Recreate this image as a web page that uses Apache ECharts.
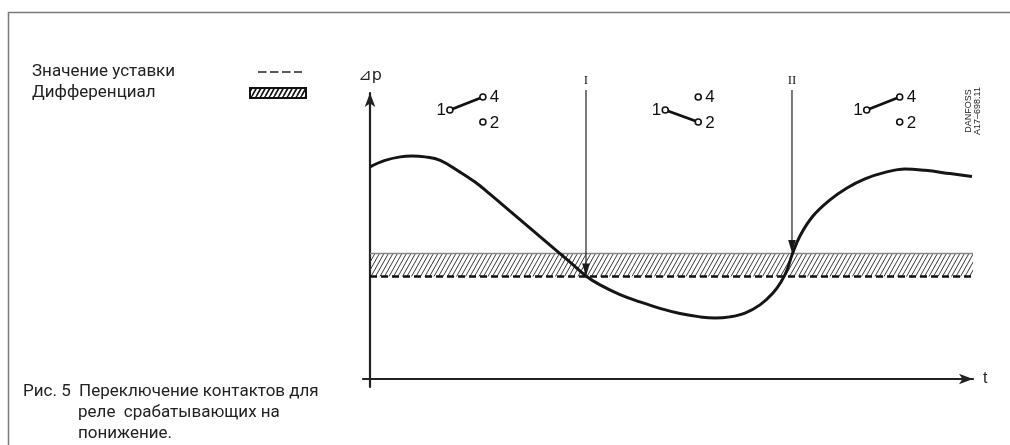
<!DOCTYPE html>
<html><head><meta charset="utf-8">
<script src="https://cdn.jsdelivr.net/npm/echarts@6/dist/echarts.min.js"></script>
<style>html,body{margin:0;padding:0;background:#fff}#c{width:1010px;height:445px}</style>
</head><body><div id="c"></div>
<script>
// ---- data ----
const tValues  = [0, 2.48, 5.0, 6.9, 9.1, 11.6, 14.88, 17.36, 19.83, 23.14, 26.45, 29.75, 33.06, 35.7, 38.02, 41.32, 44.63, 47.93, 51.24, 54.55, 57.02, 59.5, 61.98, 64.46, 66.61, 67.93, 68.93, 69.75, 71.07, 73.22, 76.03, 78.84, 81.82, 85.12, 88.43, 91.74, 95.87, 99.5];
const dpValues = [72.4, 74.6, 75.8, 76.1, 75.8, 74.6, 70.6, 67.2, 63.1, 57.3, 51.5, 45.7, 39.9, 35.15, 32.1, 28.8, 26.3, 24.1, 22.35, 21.2, 20.8, 21.2, 22.5, 25.3, 29.35, 33.1, 37.2, 42.3, 48.8, 55.6, 61.1, 65.2, 68.3, 70.5, 71.7, 71.2, 70.1, 69.1];
const setpoint = 35;
const differential = 8;
const arrowT = [35.7, 69.75];
const arrowLabels = ['I', 'II'];
const arrowStart = 98.6;
const arrowEnd = [setpoint, setpoint + differential];
const switchT = [13.2, 48.8, 82.1];
const switchClosed = ['4', '2', '4'];
const switchLevel = 91.8;
const legendNames = ['Значение уставки', 'Дифференциал'];
const captionLines = ['Рис. 5  Переключение контактов для', 'реле  срабатывающих на', 'понижение.'];
const stampLines = ['DANFOSS', 'A17\u2013698.11'];

const xMin = -1.16, xMax = 99.67, yMin = -2.73, yMax = 97.6;
const gridTop = 93, gridBottomPx = 387;

function makeHatch(color, lw) {
  const c = document.createElement('canvas');
  c.width = 9; c.height = 16;
  const g = c.getContext('2d');
  g.strokeStyle = color; g.lineWidth = lw;
  for (const k of [-9, -4.5, 0, 4.5, 9]) { g.beginPath(); g.moveTo(k, 16); g.lineTo(k + 9, 0); g.stroke(); }
  return { image: c, repeat: 'repeat' };
}
const hatch = makeHatch('#3a3a3a', 1);
const hatchDark = makeHatch('#111', 1.6);

const chart = echarts.init(document.getElementById('c'));
const font = 'Roboto';
const fs = 17;

function circ(x, y) { return { type: 'circle', shape: { cx: x, cy: y, r: 3 }, style: { fill: '#fff', stroke: '#111', lineWidth: 1.6 }, z2: 2 }; }
function num(t, x, y, align) { return { type: 'text', x: x, y: y, style: { text: t, fontFamily: 'Liberation Sans', fontSize: 17, fill: '#111', align: align, verticalAlign: 'middle' }, z2: 3 }; }

chart.setOption({
  animation: false,
  grid: { left: 363, right: 1010 - 973, top: gridTop, bottom: 445 - gridBottomPx },
  xAxis: {
    type: 'value', min: xMin, max: xMax,
    axisLine: { onZero: true, symbol: ['none', 'arrow'], symbolSize: [8, 14], lineStyle: { color: '#222', width: 2.2 } },
    axisTick: { show: false }, axisLabel: { show: false }, splitLine: { show: false },
    name: 't', nameLocation: 'end', nameGap: 10,
    nameTextStyle: { fontFamily: 'Liberation Sans', fontSize: 16, color: '#222', verticalAlign: 'middle' }
  },
  yAxis: {
    type: 'value', min: yMin, max: yMax,
    axisLine: { onZero: true, symbol: ['none', 'arrow'], symbolSize: [8, 14], lineStyle: { color: '#222', width: 2.2 } },
    axisTick: { show: false }, axisLabel: { show: false }, splitLine: { show: false },
    name: '\u22BFp', nameLocation: 'end', nameGap: 9,
    nameTextStyle: { fontFamily: 'DejaVu Sans', fontSize: 16, color: '#222' }
  },
  series: [
    {
      type: 'line', data: tValues.map((t, i) => [t, dpValues[i]]),
      smooth: 0.4, showSymbol: false, z: 5,
      lineStyle: { color: '#151515', width: 3 },
      markArea: {
        silent: true,
        itemStyle: { color: hatch },
        data: [[{ coord: [0, setpoint + differential] }, { coord: [xMax, setpoint] }]]
      },
      markLine: {
        silent: true, symbol: 'none', label: { show: false },
        data: [
          [{ coord: [0, setpoint], lineStyle: { color: '#111', width: 2.5, type: [7, 4] } }, { coord: [xMax, setpoint] }],
          [{ coord: [0, setpoint + differential], lineStyle: { color: '#888', width: 1.3, type: 'solid' } }, { coord: [xMax, setpoint + differential] }]
        ]
      }
    },
    {
      type: 'custom', coordinateSystem: 'cartesian2d', z: 6, clip: false,
      data: arrowT.map((t, i) => [t, arrowStart, arrowEnd[i]]),
      renderItem: function (params, api) {
        const p0 = api.coord([api.value(0), api.value(1)]);
        const p1 = api.coord([api.value(0), api.value(2)]);
        const x = p0[0], hl = 13, hw = 3.8;
        return {
          type: 'group', children: [
            { type: 'line', shape: { x1: x, y1: p0[1], x2: x, y2: p1[1] - hl + 1 }, style: { stroke: '#222', lineWidth: 1.2 } },
            { type: 'polygon', shape: { points: [[x - hw, p1[1] - hl], [x + hw, p1[1] - hl], [x, p1[1]]] }, style: { fill: '#1a1a1a' } },
            { type: 'text', x: x, y: p0[1] - 9, style: { text: arrowLabels[params.dataIndex], fontFamily: 'Liberation Serif', fontSize: 13, fill: '#222', align: 'center', verticalAlign: 'middle' } }
          ]
        };
      }
    },
    {
      type: 'custom', coordinateSystem: 'cartesian2d', z: 6, clip: false,
      data: switchT.map(t => [t, switchLevel]),
      renderItem: function (params, api) {
        const p = api.coord([api.value(0), api.value(1)]);
        const x = p[0], y = p[1];
        const c1 = [x, y], c4 = [x + 33, y - 13], c2 = [x + 33, y + 12];
        const tg = switchClosed[params.dataIndex] === '4' ? c4 : c2;
        return {
          type: 'group', children: [
            { type: 'line', shape: { x1: c1[0], y1: c1[1], x2: tg[0], y2: tg[1] }, style: { stroke: '#111', lineWidth: 2.8 }, z2: 1 },
            circ(c1[0], c1[1]), circ(c4[0], c4[1]), circ(c2[0], c2[1]),
            num('1', x - 4, y, 'right'), num('4', c4[0] + 7, c4[1], 'left'), num('2', c2[0] + 7, c2[1] + 1, 'left')
          ]
        };
      }
    }
  ],
  graphic: [
    { type: 'rect', shape: { x: 8.5, y: 12.5, width: 1100, height: 500 }, style: { fill: 'none', stroke: '#7a7a7a', lineWidth: 1.5 }, silent: true },
    { type: 'text', x: 32, y: 72, style: { text: legendNames[0], fontFamily: font, fontSize: fs, fill: '#222', verticalAlign: 'middle' } },
    { type: 'text', x: 32, y: 93, style: { text: legendNames[1], fontFamily: font, fontSize: fs, fill: '#222', verticalAlign: 'middle' } },
    { type: 'line', shape: { x1: 258, y1: 72, x2: 302, y2: 72 }, style: { stroke: '#222', lineWidth: 1.3, lineDash: [8.5, 3.5] } },
    { type: 'rect', shape: { x: 250, y: 88, width: 56, height: 10 }, style: { fill: hatchDark, stroke: '#111', lineWidth: 2 } },
    { type: 'text', x: 23, y: 392, style: { text: captionLines[0], fontFamily: font, fontSize: fs, fill: '#222', verticalAlign: 'middle' } },
    { type: 'text', x: 78, y: 413, style: { text: captionLines[1], fontFamily: font, fontSize: fs, fill: '#222', verticalAlign: 'middle' } },
    { type: 'text', x: 78, y: 434, style: { text: captionLines[2], fontFamily: font, fontSize: fs, fill: '#222', verticalAlign: 'middle' } },
    { type: 'text', x: 973, y: 111, rotation: Math.PI / 2, style: { text: stampLines.join('\n'), fontFamily: 'Liberation Sans', fontSize: 9, lineHeight: 9, fill: '#222', align: 'center', verticalAlign: 'middle' } }
  ]
});
</script>
</body></html>
